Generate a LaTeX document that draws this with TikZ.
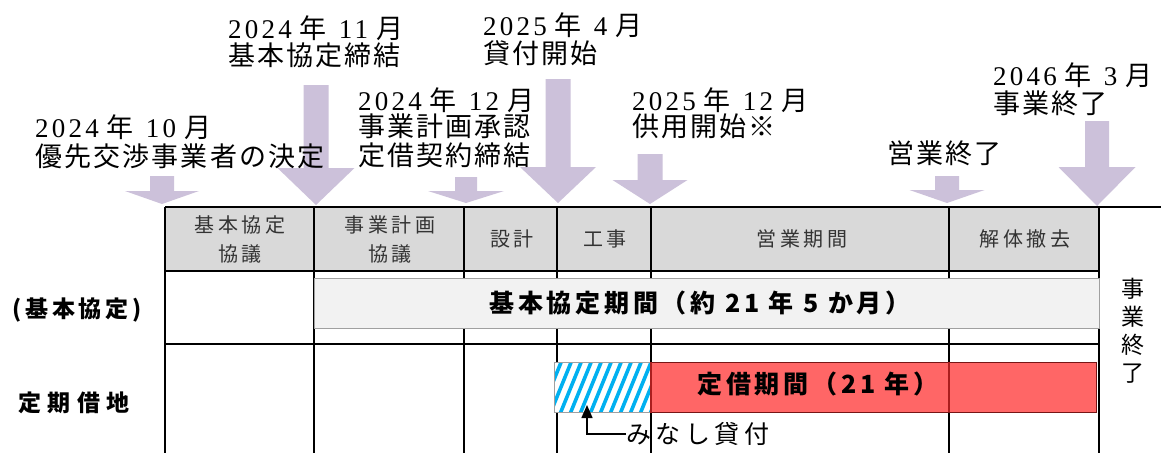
\documentclass[tikz,border=0pt]{standalone}
\usepackage{fontspec}
\setmainfont{Liberation Serif}[LetterSpace=12]
\newfontfamily\jpl{Noto Sans CJK JP}[LetterSpace=8]
\newfontfamily\jp{Noto Sans CJK JP}
\usetikzlibrary{arrows.meta}
\definecolor{lav}{RGB}{204,193,218}
\definecolor{hdrgray}{RGB}{217,217,217}
\definecolor{barg}{RGB}{242,242,242}
\definecolor{bargline}{RGB}{160,160,160}
\definecolor{redbar}{RGB}{255,102,102}
\definecolor{redline}{RGB}{170,30,30}
\definecolor{hatchb}{RGB}{0,176,240}
\newcommand{\K}[1]{{\jpl #1}}
\newcommand{\ym}[2]{#1\hspace{8pt}\K{年}\hspace{12pt}#2\hspace{8pt}\K{月}}
\newcommand{\darr}[6]{%
  \fill[arrowc] ({#1-#5},#3) -- ({#1+#5},#3) -- ({#1+#5},#4) -- ({#1+#6},#4)
    -- (#1,#2) -- ({#1-#6},#4) -- ({#1-#5},#4) -- cycle;}
\begin{document}
\begin{tikzpicture}[x=1pt,y=-1pt,
  arrowc/.style={fill=lav},
  grid/.style={line width=2pt, black},
  hdr/.style={font=\jp\fontsize{20}{29}\selectfont\addfontfeature{LetterSpace=18},
    text=black!80, align=center, inner sep=0},
  lbl/.style={font=\fontsize{27}{30}\selectfont, anchor=base west, inner sep=0,
    text height=20pt, text depth=2pt},
  bartxt/.style={font=\jp\bfseries\fontsize{25}{30}\selectfont\addfontfeature{LetterSpace=15},
    inner sep=0},
  side/.style={font=\jp\bfseries\fontsize{23}{26}\selectfont\addfontfeature{LetterSpace=16},
    inner sep=0},
  mtxt/.style={font=\jp\fontsize{25}{28}\selectfont\addfontfeature{LetterSpace=18},
    inner sep=0},
  vtxt/.style={font=\jp\fontsize{23}{28}\selectfont, align=center, inner sep=0},
  barbox/.style={anchor=north west, inner sep=0, minimum height=50pt}
]
\useasboundingbox (0,0) rectangle (1161,453);
\fill[white] (0,0) rectangle (1161,453);

% arrows
\darr{162}{204}{176}{191}{12}{37}
\darr{316}{205}{85}{168}{12.5}{38.5}
\darr{466}{203}{177}{191}{11}{38}
\darr{558}{203}{79}{167}{12.5}{38}
\darr{650}{204}{154}{180}{12.5}{37.5}
\darr{947}{203}{176}{190}{12}{37.5}
\darr{1097}{206}{121}{167}{12}{38.5}

% top labels
\node[lbl] (l1a) at (35,137) {\ym{2024}{10}};
\node[lbl] (l1b) at (35,166) {\K{優先交渉事業者の決定}};
\node[lbl] (l2a) at (228,38) {\ym{2024}{11}};
\node[lbl] (l2b) at (228,65) {\K{基本協定締結}};
\node[lbl] (l3a) at (358,110) {\ym{2024}{12}};
\node[lbl] (l3b) at (358,136) {\K{事業計画承認}};
\node[lbl] (l3c) at (358,165) {\K{定借契約締結}};
\node[lbl] (l4a) at (483,35) {\ym{2025}{4}};
\node[lbl] (l4b) at (483,63) {\K{貸付開始}};
\node[lbl] (l5a) at (632,110) {\ym{2025}{12}};
\node[lbl] (l5b) at (632,136) {\K{供用開始※}};
\node[lbl] (l6) at (887,163) {\K{営業終了}};
\node[lbl] (l7a) at (993,85) {\ym{2046}{3}};
\node[lbl] (l7b) at (993,113) {\K{事業終了}};

% table
\fill[hdrgray] (165,207) rectangle (1099,271);
\draw[grid] (165,207) -- (1161,207);
\draw[grid] (165,271) -- (1099,271);
\draw[grid] (165,344) -- (1099,344);
\foreach \x in {165,314,464,557,651,949,1099} \draw[grid] (\x,207) -- (\x,453);

\node[hdr] (h1) at (240,239) {基本協定\\協議};
\node[hdr] (h2) at (390,239) {事業計画\\協議};
\node[hdr] (h3) at (512,239) {設計};
\node[hdr] (h4) at (605,239) {工事};
\node[hdr] (h5) at (802,239) {営業期間};
\node[hdr] (h6) at (1025,239) {解体撤去};

% basic agreement bar
\node[barbox, draw=bargline, fill=barg, line width=1pt, minimum width=785pt] (kbar) at (314,278) {};
\node[bartxt] (ktxt) at (700,303) {基本協定期間（約 21 年 5 か月）};

% hatched bar
\node[barbox, fill=white, minimum width=96pt] (hatch) at (554,362) {};
\begin{scope}
  \clip (554,362) rectangle (650,412);
  \foreach \x in {500,510,...,660} \draw[hatchb, line width=3.6pt] (\x,414) -- ({\x+22},360);
\end{scope}
\draw[bargline, line width=0.8pt] (hatch.north west) rectangle (hatch.south east);

% red bar
\node[barbox, fill=redbar, draw=redline!70!black, line width=0.8pt, minimum width=445pt] (rbar) at (651,362) {};
\draw[redline, line width=2pt] (rbar.north west) -- (rbar.south west);
\draw[redline, line width=2pt] (949,362) -- (949,412);
\node[bartxt] (rtxt) at (818,384) {定借期間（21 年）};

% minashi label
\node[mtxt, anchor=west] (mlab) at (626,434) {みなし貸付};
\coordinate (mtip) at (587,405);
\draw[line width=1.5pt, -{Triangle[length=13pt,width=11pt]}] (mlab.west) -| (mtip);

% side labels
\node[side] (s1) at (77,310) {(基本協定)};
\node[side, font=\jp\bfseries\fontsize{23}{26}\selectfont\addfontfeature{LetterSpace=28}] (s2) at (74,403) {定期借地};
\node[vtxt] (v1) at (1133,331) {事\\業\\終\\了};
\end{tikzpicture}
\end{document}
